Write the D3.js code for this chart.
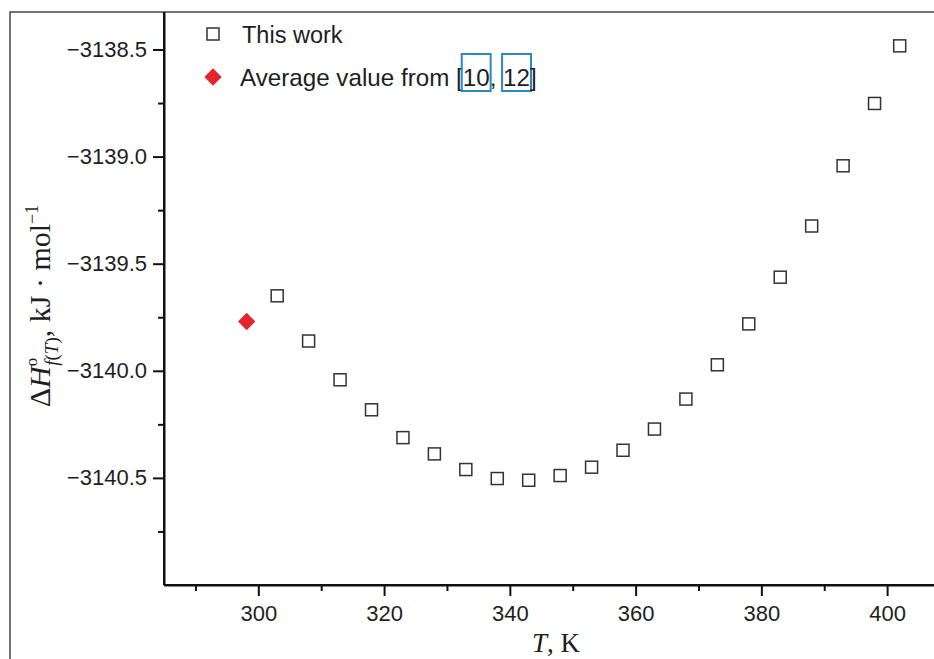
<!DOCTYPE html>
<html>
<head>
<meta charset="utf-8">
<script src="https://cdn.jsdelivr.net/npm/d3@7"></script>
<style>
  html, body { margin: 0; padding: 0; background: #fff; }
  svg { display: block; }
</style>
</head>
<body>
<svg id="chart" width="934" height="659"></svg>
<script>
// ---- data ----
const temperatures = [303, 308, 313, 318, 323, 328, 333, 338, 343, 348, 353, 358, 363, 368, 373, 378, 383, 388, 393, 398, 402];
const enthalpyValues = [-3139.650, -3139.861, -3140.042, -3140.182, -3140.312, -3140.388, -3140.461, -3140.503, -3140.511, -3140.489, -3140.450, -3140.371, -3140.272, -3140.132, -3139.972, -3139.781, -3139.563, -3139.324, -3139.043, -3138.752, -3138.483];
const referenceT = [298.15];
const referenceValues = [-3139.770];
const xMajorTicks = [300, 320, 340, 360, 380, 400];
const xMinorTicks = [290, 310, 330, 350, 370, 390, 410];
const yMajorTicks = [-3138.5, -3139.0, -3139.5, -3140.0, -3140.5];
const yMinorTicks = [-3138.75, -3139.25, -3139.75, -3140.25, -3140.75];
const legendLabels = ["This work", "Average value from ["];
const citations = ["10", "12"];

// ---- layout ----
const svg = d3.select("#chart");
const mLeft = 164, mTop = 12, mBottom = 585, mRight = 950;
const sans = "'Liberation Sans', Arial, sans-serif";
const serif = "'Liberation Serif', 'Times New Roman', serif";

const x = d3.scaleLinear().domain([285, 410]).range([mLeft, mRight]);
const y = d3.scaleLinear().domain([-3141.0, -3138.325]).range([mBottom, mTop]);

// outer frame
svg.append("rect").attr("x", 10).attr("y", 12).attr("width", 1000).attr("height", 700)
  .attr("fill", "none").attr("stroke", "#444").attr("stroke-width", 1.5);

// axes
const fmt = d3.format(".1f");
const yAxis = svg.append("g").attr("transform", `translate(${mLeft},0)`)
  .call(d3.axisLeft(y).tickValues(yMajorTicks).tickSize(11).tickSizeOuter(0).tickPadding(6).tickFormat(fmt));
const yMinor = svg.append("g").attr("transform", `translate(${mLeft},0)`)
  .call(d3.axisLeft(y).tickValues(yMinorTicks).tickSize(6).tickSizeOuter(0).tickFormat(""));
const xAxis = svg.append("g").attr("transform", `translate(0,${mBottom})`)
  .call(d3.axisBottom(x).tickValues(xMajorTicks).tickSize(11).tickSizeOuter(0).tickPadding(9).tickFormat(d3.format("d")));
const xMinor = svg.append("g").attr("transform", `translate(0,${mBottom})`)
  .call(d3.axisBottom(x).tickValues(xMinorTicks).tickSize(6).tickSizeOuter(0).tickFormat(""));

[yAxis, yMinor, xAxis, xMinor].forEach(g => {
  g.selectAll("path.domain").attr("stroke", "#111").attr("stroke-width", 2);
  g.selectAll(".tick line").attr("stroke", "#111").attr("stroke-width", 2);
  g.selectAll(".tick text").attr("fill", "#1e1e1e").style("font-family", sans).style("font-size", "22px");
});
yAxis.select("path.domain").attr("d", `M0,${mTop}V${mBottom}`);
xAxis.select("path.domain").attr("d", `M${mLeft},0H${mRight}`);

// data markers
const sq = 12;
svg.append("g").selectAll("rect").data(temperatures).join("rect")
  .attr("x", (d) => x(d) - sq / 2)
  .attr("y", (d, i) => y(enthalpyValues[i]) - sq / 2)
  .attr("width", sq).attr("height", sq)
  .attr("fill", "#fff").attr("stroke", "#333").attr("stroke-width", 1.5);

const diamond = d3.symbol().type(d3.symbolSquare).size(150);
svg.append("g").selectAll("path").data(referenceT).join("path")
  .attr("d", diamond)
  .attr("transform", (d, i) => `translate(${x(d)},${y(referenceValues[i])}) rotate(45)`)
  .attr("fill", "#e5252a");

// legend
svg.append("rect").attr("x", 213 - sq / 2).attr("y", 34 - sq / 2).attr("width", sq).attr("height", sq)
  .attr("fill", "#fff").attr("stroke", "#333").attr("stroke-width", 1.5);
svg.append("path").attr("d", diamond).attr("transform", "translate(213,77) rotate(45)").attr("fill", "#e5252a");

svg.append("text").attr("x", 242).attr("y", 43).text(legendLabels[0])
  .style("font-family", sans).style("font-size", "23.5px").attr("fill", "#1e1e1e");

const pieces = [legendLabels[1], citations[0], ", ", citations[1], "]"];
let cx = 240;
pieces.forEach((p, i) => {
  const t = svg.append("text").attr("x", cx).attr("y", 86).text(p)
    .style("font-family", sans).style("font-size", "24.2px").attr("fill", "#1e1e1e")
    .attr("xml:space", "preserve").style("white-space", "pre");
  const w = t.node().getComputedTextLength();
  if (i === 1 || i === 3) {
    svg.append("rect").attr("x", cx - 1).attr("y", 54).attr("width", w + 2).attr("height", 37)
      .attr("fill", "none").attr("stroke", "#2a88c6").attr("stroke-width", 2);
  }
  cx += w;
});

// x title
const xt = svg.append("text").attr("x", 556).attr("y", 652).attr("text-anchor", "middle")
  .style("font-family", serif).style("font-size", "27px").attr("fill", "#1e1e1e");
xt.append("tspan").style("font-style", "italic").text("T");
xt.append("tspan").text(", K");

// y title
const yt = svg.append("text").attr("transform", "translate(50,306) rotate(-90)")
  .attr("text-anchor", "middle").style("font-family", serif).style("font-size", "30px").attr("fill", "#1e1e1e");
yt.append("tspan").text("Δ");
yt.append("tspan").style("font-style", "italic").text("H");
yt.append("tspan").attr("dy", -13).style("font-size", "17px").text("o");
const subStart = yt.append("tspan").attr("dx", -8).attr("dy", 21).style("font-size", "19px");
subStart.append("tspan").style("font-style", "italic").text("f");
subStart.append("tspan").text("(");
subStart.append("tspan").style("font-style", "italic").text("T");
subStart.append("tspan").text(")");
yt.append("tspan").attr("dy", -8).text(", kJ · mol");
yt.append("tspan").attr("dy", -12).style("font-size", "18px").text("−1");
</script>
</body>
</html>
